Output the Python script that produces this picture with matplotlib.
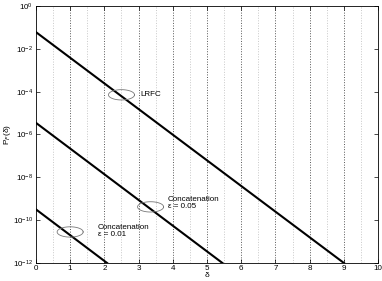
import numpy as np
import matplotlib
matplotlib.use("Agg")
import matplotlib.pyplot as plt

# data: line end points (delta, P_F)
lrfc_x = [0, 9]
lrfc_y = [6e-2, 1e-12]
c05_x = [0, 5.45]
c05_y = [3.5e-6, 1e-12]
c01_x = [0, 2.08]
c01_y = [3.2e-10, 1e-12]

# annotation ellipses: centre delta, centre log10(P), label
ell_cx = [2.5, 3.35, 1.0]
ell_cy = [-4.15, -9.38, -10.55]
labels = ["LRFC", "Concatenation\nε = 0.05", "Concatenation\nε = 0.01"]
label_x = [3.05, 3.85, 1.8]
label_y = [-4.15, -9.2, -10.5]

plt.rcParams['font.family'] = ['Liberation Sans', 'DejaVu Sans']
plt.rcParams['mathtext.fontset'] = 'dejavusans'

fig = plt.figure(figsize=(3.82, 2.81), dpi=100)
ax = fig.add_axes([0.094, 0.064, 0.896, 0.915])

ax.set_yscale('log')
ax.set_xlim(0, 10)
ax.set_ylim(1e-12, 1)

for x in np.arange(0.5, 10, 1.0):
    ax.axvline(x, color='#c8c8c8', ls=':', lw=0.7, zorder=0)
for x in range(1, 10):
    ax.axvline(x, color='#555555', ls=':', lw=0.7, zorder=0)

ax.plot(lrfc_x, lrfc_y, color='black', lw=1.5)
ax.plot(c05_x, c05_y, color='black', lw=1.5)
ax.plot(c01_x, c01_y, color='black', lw=1.5)

t = np.linspace(0, 2 * np.pi, 100)
for cx, cy, lab, lx, ly in zip(ell_cx, ell_cy, labels, label_x, label_y):
    ax.plot(cx + 0.38 * np.cos(t), 10 ** (cy + 0.24 * np.sin(t)), color='#777777', lw=0.6)
    ax.text(lx, 10 ** ly, lab, fontsize=5.8, va='center', ha='left', linespacing=1.1)

ax.set_xticks(range(0, 11))
ax.set_yticks([10.0 ** k for k in range(-12, 1, 2)])
ax.minorticks_off()
ax.tick_params(direction='in', labelsize=5.8, length=3, width=0.5, top=True, right=True, pad=2)
ax.tick_params(axis='x', pad=1.5)
for s in ax.spines.values():
    s.set_linewidth(0.6)

ax.set_xlabel('δ', fontsize=6, labelpad=0)
ax.set_ylabel('P$_F$(δ)', fontsize=6, labelpad=0)

plt.savefig('out.png', dpi=100)
